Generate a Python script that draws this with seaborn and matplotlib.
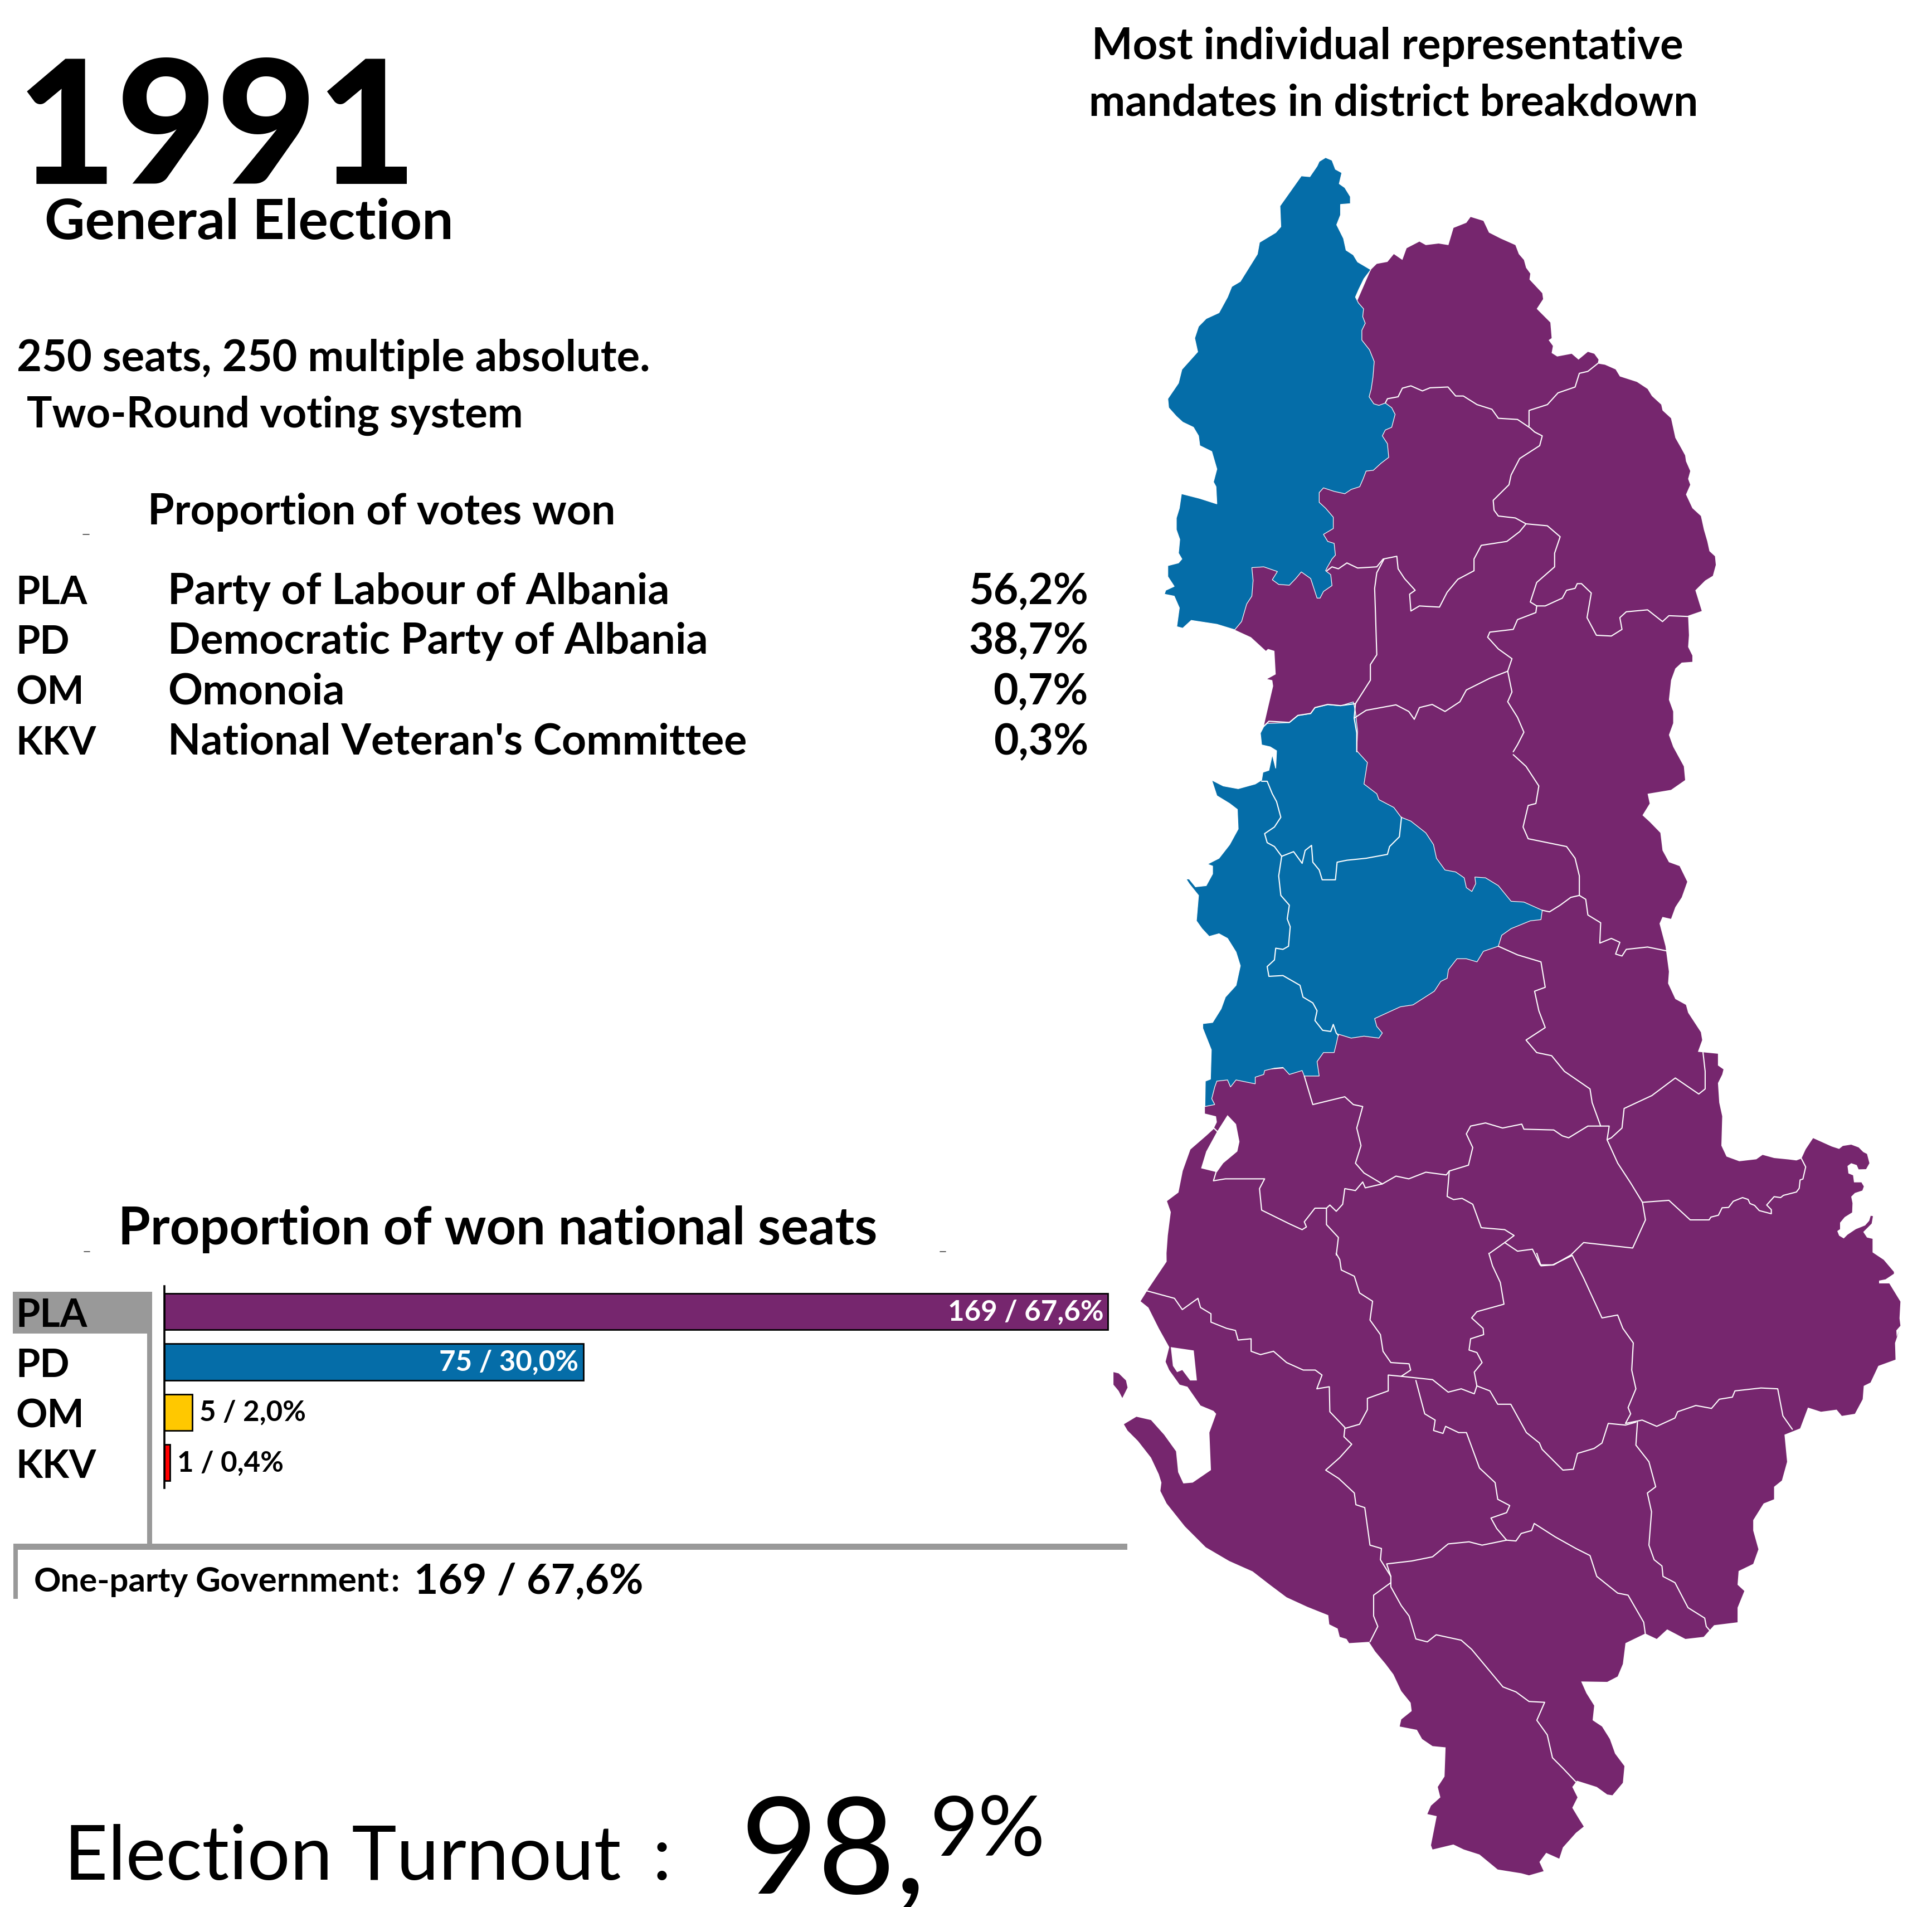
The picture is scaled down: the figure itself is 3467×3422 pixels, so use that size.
"""
1991 Albanian general election: seats bar chart, vote table and district map.
"""

import matplotlib
matplotlib.use("Agg")
import matplotlib.pyplot as plt
import pandas as pd
import seaborn as sns

WIDTH, HEIGHT = 3467, 3423
FONT = ["Lato", "DejaVu Sans"]
PURPLE = "#76266E"
BLUE = "#056DA8"
GREY = "#999999"

PARTIES = ["PLA", "PD", "OM", "KKV"]
PARTY_NAMES = ["Party of Labour of Albania", "Democratic Party of Albania", "Omonoia", "National Veteran's Committee"]
VOTE_SHARES = ["56,2%", "38,7%", "0,7%", "0,3%"]
SEATS = [169, 75, 5, 1]
SEAT_LABELS = ["169 / 67,6%", "75 / 30,0%", "5 / 2,0%", "1 / 0,4%"]
BAR_COLOURS = [PURPLE, BLUE, "#FFC800", "#FF0000"]

C1 = (2000, 250, 1.3067, 1.4255)
C2 = (2000, 1250, 1.3067, 1.4255)
C3 = (2000, 2250, 1.0688, 1.3367)
C5 = (3067, 2000, 3.0, 3.0)

EAST_C1 = [(601,335),(615,320),(640,315),(655,295),(675,310),(685,280),(715,263),(730,272),(760,268),(783,272),(795,228),(825,215),(835,200),(865,210),(878,240),(905,255),(940,272),(948,295),(960,310),(965,330),(975,345),(973,360),(1003,395),(1005,410),(990,435),(1022,470),(1025,510),(1018,515),(1028,530),(1025,548),(1038,557),(1072,550),(1088,565),(1110,545),(1125,550),(1135,565),(1133,575),(1150,578),(1175,590),(1185,608),(1225,622),(1250,640),(1260,658),(1282,680),(1285,695),(1305,715),(1315,765),(1328,790),(1338,810),(1340,825),(1350,850),(1345,870),(1350,885),(1340,910),(1355,945),(1375,965),(1382,1000),(1390,1030),(1395,1055),(1408,1068),(1410,1090),(1403,1118),(1385,1130),(1362,1155),(1377,1208),(1345,1220),(1347,1270),(1345,1300),(1355,1322),(1355,1338),(1330,1340),(1315,1355),(1305,1385),(1300,1435),(1310,1465),(1310,1495),(1300,1525)]
EAST_C2 = [(1310,130),(1335,180),(1338,215),(1305,240),(1250,250),(1255,275),(1238,305),(1255,322),(1280,350),(1285,395),(1300,425),(1325,435),(1343,475),(1330,515),(1315,540),(1305,570),(1285,565),(1278,582),(1292,640),(1300,705),(1298,735),(1315,775),(1340,790),(1345,810),(1375,860),(1378,880),(1368,910),(1415,915),(1415,945),(1428,955),(1425,968),(1415,990),(1418,1040),(1425,1075),(1423,1150),(1435,1178),(1465,1190),(1505,1185)]
EAST_C5 = [(288,220),(350,237),(430,245),(470,250),(497,240),(520,190),(560,130),(660,175),(700,188),(720,172),(765,165),(805,180),(830,205),(850,215),(863,265),(845,297),(805,298),(795,275),(765,265),(745,280),(750,320),(775,330),(780,368),(820,368),(833,390),(825,412),(785,425),(765,445),(772,480),(770,530),(730,555),(705,585),(705,620),(690,630),(700,655),(725,670),(745,650),(790,620),(840,600),(862,575),(870,548),(882,550),(875,590),(830,635),(850,665),(880,672),(880,745),(940,785),(995,850),(995,860),(950,890),(915,897),(915,912),(970,912),(1030,1010),(1025,1100),(1030,1140),(1008,1165),(1010,1200)]
SOUTH_C3 = [(1505,185),(1497,215),(1498,255),(1465,270),(1450,310),(1437,318),(1435,350),(1420,385),(1395,390),(1385,375),(1355,380),(1330,370),(1315,420),(1285,435),(1290,500),(1280,545),(1265,560),(1265,590),(1245,600),(1225,640),(1225,665),(1235,710),(1225,745),(1197,762),(1195,795),(1208,810),(1195,850),(1195,885),(1150,892),(1130,920),(1095,925),(1060,902),(1040,925),(1018,912),(980,935),(975,985),(965,1015),(945,1028),(895,1027),(905,1055),(920,1085),(917,1120),(935,1135),(950,1165),(960,1200),(978,1230),(975,1270),(955,1300),(945,1298),(925,1280),(887,1265),(878,1280),(888,1305),(878,1330),(890,1355),(900,1375),(885,1390),(860,1425),(853,1452),(828,1438),(815,1460),(823,1482),(795,1492),(780,1487),(735,1478),(700,1442),(670,1430),(650,1418),(610,1430),(607,1420),(618,1350),(600,1345),(607,1325),(625,1305),(620,1280),(633,1255),(635,1185),(610,1182),(590,1165),(580,1143),(547,1135),(550,1118),(570,1098),(568,1078),(550,1050),(535,1010),(520,985),(500,955),(488,932),(450,935),(445,925),(432,920),(428,900),(412,890),(410,868),(370,848),(330,825),(298,795),(265,763),(220,738),(175,705),(135,655),(100,600),(88,570),(90,550),(85,530),(70,490),(45,450),(25,425),(18,410),(42,392),(70,400),(95,435),(118,475),(122,525),(132,552),(150,550),(185,520),(182,430),(195,385),(190,378),(165,365),(140,320),(125,315),(105,280),(98,260),(105,225),(85,180),(65,130),(50,115),(65,85),(100,20)]
WEST_C2 = [(122,1425),(125,1380),(132,1320),(123,1292),(150,1270),(160,1215),(178,1160),(215,1125),(232,1108),(240,1090),(238,1075),(212,1068),(212,1050),(225,985),(300,960),(430,950),(400,500),(400,85)]
WEST_C1 = [(350,1503),(358,1465),(372,1400),(370,1385),(358,1382),(378,1370),(375,1310),(360,1305),(355,1310),(320,1275),(282,1256),(300,1200),(300,1090)]

BLUE_NORTH_C1 = [(495,48),(510,55),(518,78),(533,87),(527,115),(540,125),(553,148),(553,166),(530,168),(530,195),(521,220),(537,255),(543,285),(560,297),(570,315),(601,335),(585,358),(573,385),(565,405),(572,420),(584,435),(582,455),(588,472),(580,490),(580,515),(598,540),(609,570),(606,610),(602,640),(597,660),(608,678),(620,682),(635,676),(650,688),(658,705),(650,738),(635,745),(628,760),(640,780),(643,815),(625,830),(607,848),(590,850),(583,870),(575,890),(555,897),(540,908),(515,902),(490,893),(480,905),(480,930),(495,945),(513,968),(513,997),(490,1012),(500,1030),(515,1035),(518,1065),(510,1075),(498,1098),(495,1105),(507,1115),(510,1143),(490,1158),(482,1175),(475,1175),(460,1125),(438,1108),(425,1125),(410,1142),(385,1140),(370,1128),(382,1107),(350,1095),(322,1097),(325,1130),(322,1170),(310,1190),(298,1235),(282,1256),(240,1242),(180,1232),(160,1252),(146,1248),(152,1200),(140,1170),(117,1165),(120,1155),(140,1145),(125,1120),(125,1092),(150,1085),(158,1075),(150,1060),(153,1025),(145,1000),(145,970),(152,945),(157,908),(200,920),(240,934),(238,890),(232,878),(240,845),(228,800),(200,785),(197,760),(185,738),(160,725),(145,710),(127,688),(125,665),(150,625),(158,590),(195,545),(188,510),(197,480),(215,460),(245,445),(265,405),(275,378),(295,365),(315,330),(335,295),(340,265),(378,240),(390,225),(388,172),(438,95),(458,97),(475,70),(480,58)]
BLUE_CENTRE_C2 = [(350,78),(358,70),(410,68),(430,50),(460,45),(470,30),(500,22),(530,25),(560,15),(565,40),(570,90),(568,140),(593,170),(585,225),(615,250),(620,265),(655,285),(672,310),(695,320),(730,350),(748,380),(755,415),(775,445),(800,450),(820,465),(825,490),(838,500),(847,480),(845,463),(870,465),(900,485),(930,525),(960,527),(1003,548),(1000,572),(975,575),(930,595),(908,612),(900,640),(865,653),(850,680),(825,672),(803,672),(783,700),(780,722),(765,730),(750,755),(700,790),(670,795),(640,810),(610,825),(615,845),(628,862),(620,875),(585,870),(555,875),(525,865),(520,890),(515,912),(490,912),(475,935),(480,972),(445,972),(440,958),(410,968),(395,950),(375,952),(352,958),(350,968),(330,975),(330,992),(285,982),(272,1000),(265,982),(240,985),(235,1000),(228,1030),(235,1045),(212,1050),(213,985),(225,980),(227,905),(207,850),(207,838),(230,835),(250,800),(260,770),(285,740),(295,690),(285,655),(265,620),(245,608),(222,615),(205,595),(192,575),(197,510),(175,480),(168,468),(175,468),(190,488),(215,485),(230,455),(230,435),(218,430),(245,415),(270,380),(290,340),(288,290),(270,275),(240,255),(228,215),(255,230),(290,237),(330,225),(345,215),(348,195),(362,190),(370,150),(378,185),(380,140),(365,130),(345,125),(342,95)]

LAGOON_C2 = [(265,1072),(285,1095),(293,1140),(288,1165),(255,1195),(240,1218),(203,1208),(215,1165),(240,1115)]
LAGOON_C3 = [(108,225),(152,233),(158,305),(145,305),(130,280),(120,285),(112,270)]
ISLAND_C3 = [(-2,285),(8,288),(22,305),(25,322),(15,347),(8,330),(-2,315)]

BORDERS_C1 = [
    [(635,676),(640,665),(665,660),(675,638),(695,632),(722,645),(740,637),(782,635),(800,658),(818,658),(850,680),(885,692),(900,715),(945,718),(975,740),(985,750),(1003,760),(997,785),(950,818),(930,860),(925,885),(888,925),(890,950),(900,965),(940,970),(965,985),(950,1005),(920,1030),(860,1040),(843,1075),(843,1105),(805,1127),(780,1160),(762,1198),(715,1195),(695,1208),(692,1165),(705,1155),(680,1125),(665,1100),(662,1068),(630,1075),(615,1095),(570,1098),(545,1085),(525,1100),(510,1095),(498,1105)],
    [(972,735),(972,695),(1015,680),(1040,650),(1080,635),(1090,600),(1110,595),(1133,575)],
    [(965,985),(1015,990),(1045,1018),(1032,1060),(1032,1095),(990,1135),(975,1185),(990,1195),(1010,1195),(1050,1175),(1060,1155),(1080,1150),(1085,1138),(1095,1138),(1118,1162),(1108,1225),(1130,1270),(1165,1272),(1190,1255),(1185,1225),(1200,1210),(1250,1205),(1285,1235),(1300,1220),(1345,1222)],
    [(990,1195),(988,1212),(945,1230),(935,1255),(880,1262),(875,1275),(900,1305),(932,1330),(922,1362),(880,1380),(825,1410),(810,1440),(775,1465),(745,1447),(715,1455),(703,1485),(690,1465),(660,1448),(590,1462),(562,1482),(568,1520),(568,1568)],
    [(632,1075),(615,1110),(610,1150),(612,1215),(615,1320),(600,1345),(600,1385),(565,1445),(562,1482)],
    [(922,1362),(932,1415),(922,1440),(945,1480),(960,1518),(945,1550),(935,1568)],
    [(350,1503),(362,1490),(410,1493),(430,1475),(460,1470),(470,1455),(500,1447),(530,1450),(565,1445)],
]
BORDERS_C2 = [
    [(935,150),(965,180),(995,230),(988,275),(970,280),(958,335),(970,365),(1060,385),(1080,415),(1090,460),(1090,510)],
    [(1003,548),(1020,552),(1045,535),(1070,515),(1090,510),(1105,520),(1110,560),(1140,580),(1138,632),(1165,620),(1185,630),(1175,660),(1190,665),(1200,648),(1250,642),(1295,652)],
    [(900,640),(945,662),(1000,680),(1010,745),(985,755),(995,805),(1010,848),(965,880),(990,912),(1025,920),(1055,960),(1115,1005),(1120,1040),(1140,1100),(1160,1100),(1155,1135),(1180,1195),(1210,1245),(1238,1295),(1245,1340),(1215,1412),(1100,1398),(1070,1430),(1030,1455),(998,1455),(980,1415),(945,1420),(915,1398),(880,1425)],
    [(1380,912),(1385,960),(1385,1005),(1370,1018),(1315,977),(1260,1022),(1195,1055),(1190,1105),(1165,1130),(1155,1135)],
    [(1140,1100),(1110,1100),(1065,1130),(1050,1125),(1030,1110),(960,1108),(955,1095),(910,1105),(870,1092),(835,1100),(825,1120),(840,1155),(830,1200),(785,1215),(780,1280),(795,1288),(815,1285),(840,1300),(860,1360),(915,1365),(937,1380),(915,1398)],
    [(445,972),(465,1045),(540,1025),(560,1045),(582,1050),(568,1105),(578,1150),(565,1195),(585,1220),(628,1248),(660,1228),(690,1235),(730,1218),(778,1225),(785,1215)],
    [(628,1248),(588,1258),(582,1243),(565,1265),(540,1260),(535,1300),(520,1318),(505,1302),(497,1310),(497,1352),(525,1385),(520,1430)],
    [(497,1310),(470,1310),(445,1345),(450,1358),(440,1365),(410,1350),(345,1315),(340,1260),(352,1235),(260,1235),(232,1240),(238,1218)],
    [(1238,1295),(1300,1290),(1350,1340),(1394,1340)],
    [(345,218),(358,218),(370,250),(380,270),(390,310),(375,335),(352,352),(358,375),(375,385),(392,410),(385,460),(390,510),(410,535),(405,570),(412,590),(408,640),(395,648),(378,645),(375,675),(358,692),(362,717),(395,715),(435,740),(442,770),(465,785),(475,805),(470,830),(488,855),(507,858),(513,840),(520,862),(525,868)],
    [(392,410),(420,398),(440,428),(447,395),(462,382),(465,425),(480,445),(487,470),(518,470),(522,425),(545,420),(590,415),(640,405),(645,385),(668,360),(673,310)],
    [(228,1100),(245,1118)],
]
BORDERS_C3 = [
    [(425,0),(432,15),(435,40),(460,55),(470,95),(495,115),(490,160),(510,195),(515,235),(530,262),(565,265),(568,280),(550,295),(525,292),(525,330),(485,348),(485,375),(470,410),(442,420)],
    [(62,90),(115,108),(130,135),(160,108),(165,130),(185,145),(185,165),(215,180),(232,185),(237,208),(262,205),(262,235),(280,243),(305,235),(330,262),(362,280),(385,280),(398,292),(388,325),(412,320),(413,380),(442,418),(440,440),(455,458),(432,490),(405,520),(430,540),(460,575),(463,603),(480,610),(490,700),(512,708),(510,735),(530,775),(530,800),(550,845),(565,870),(578,925),(600,932),(617,915),(665,928),(685,950),(725,1010),(745,1040),(770,1052),(795,1075),(825,1077),(810,1120),(830,1155),(840,1210),(860,1235),(885,1268)],
    [(530,775),(522,745),(570,738),(610,728),(640,697),(680,692),(705,700),(752,688),(770,690),(780,672),(800,665),(805,648),(845,680),(885,708),(912,725),(925,775),(965,815),(985,820),(1015,885),(1018,912)],
    [(530,790),(497,820),(497,870),(505,895),(490,932)],
    [(752,688),(733,660),(722,635),(752,622),(758,605),(735,590),(730,550),(700,515),(675,430),(660,430),(635,415),(630,432),(612,425),(615,400),(595,385),(578,305)],
    [(550,295),(610,303),(640,333),(665,325),(690,337),(695,318)],
    [(695,318),(690,285),(705,262),(695,238),(680,232),(683,205),(708,195),(707,180),(685,155),(695,140),(747,122),(740,70),(725,30),(718,0)],
    [(695,318),(720,330),(735,362),(760,362),(790,430),(815,455),(820,470),(860,520),(880,518),(888,480),(920,468),(935,455),(947,408),(980,412),(1000,405)],
    [(810,0),(818,30),(840,28),(878,5),(900,60),(935,155),(965,148),(975,180),(995,215),(992,280),(1000,325),(985,370),(990,385),(980,408),(1012,400),(1040,415),(1075,395),(1080,380),(1115,365),(1145,372),(1160,350),(1185,345),(1190,330),(1240,323),(1272,325),(1282,390),(1300,422)],
    [(1003,405),(1000,460),(1025,500),(1038,560),(1022,575),(1030,620),(1025,700),(1035,735),(1050,750),(1052,775),(1075,790),(1100,850),(1132,875),(1135,895),(1142,905)],
]
BORDERS_C5 = [
    [(0,570),(10,555),(50,545),(70,505),(105,503),(130,470),(180,450),(210,460),(220,482),(245,492),(270,520),(335,537),(335,515),(310,490),(350,445),(385,450),(400,438),(470,420),(485,400),(490,355),(505,350),(520,285),(497,240)],
]


def to_px(points, crop):
    """Turn points traced on a crop into full image pixels."""
    left, top, sx, sy = crop
    return [(left + x / sx, top + y / sy) for x, y in points]


def label(ax, x, y, text, size, weight="bold", ha="left", color="black"):
    """Write text with its baseline at pixel y; size is the em size in pixels."""
    ax.text(x, y, text, fontsize=size * 0.72, fontweight=weight, ha=ha, va="baseline",
            color=color, family=FONT)


def draw_map(ax):
    outline = (to_px(EAST_C1, C1) + to_px(EAST_C2, C2) + to_px(EAST_C5, C5) + to_px(SOUTH_C3, C3)
               + to_px(WEST_C2, C2) + to_px(WEST_C1, C1))
    ax.fill(*zip(*outline), color=PURPLE, lw=0)
    ax.fill(*zip(*to_px(ISLAND_C3, C3)), color=PURPLE, lw=0)
    for lagoon, crop in [(LAGOON_C2, C2), (LAGOON_C3, C3)]:
        ax.fill(*zip(*to_px(lagoon, crop)), color="white", lw=0)

    ax.fill(*zip(*to_px(BLUE_NORTH_C1, C1)), facecolor=BLUE, edgecolor="white", lw=0.9)
    ax.fill(*zip(*to_px(BLUE_CENTRE_C2, C2)), facecolor=BLUE, edgecolor="white", lw=0.9)

    for borders, crop in [(BORDERS_C1, C1), (BORDERS_C2, C2), (BORDERS_C3, C3), (BORDERS_C5, C5)]:
        for line in borders:
            ax.plot(*zip(*to_px(line, crop)), color="white", lw=1.5, solid_joinstyle="round")


def draw_text(ax):
    label(ax, 30, 330, "1991", 310, weight="black")
    label(ax, 80, 429, "General Election", 100)
    label(ax, 2490, 106, "Most individual representative", 78, ha="center")
    label(ax, 2501, 208, "mandates in district breakdown", 78, ha="center")

    label(ax, 30, 666, "250 seats, 250 multiple absolute.", 77.5)
    label(ax, 48, 767, "Two-Round voting system", 76)
    label(ax, 265, 941, "Proportion of votes won", 77)

    for y, party, name, share in zip([1084, 1173, 1264, 1354], PARTIES, PARTY_NAMES, VOTE_SHARES):
        label(ax, 28, y, party, 70)
        label(ax, 301, y, name, 77)
        label(ax, 1953, y, share, 77, ha="right")

    label(ax, 212, 2233, "Proportion of won national seats", 93.5)

    label(ax, 61, 2856, "One-party", 60)
    label(ax, 351, 2856, "Government", 62)
    label(ax, 702, 2856, ":", 60)
    label(ax, 743, 2859, "169 / 67,6%", 75)

    label(ax, 115, 3373, "Election Turnout", 136, weight="normal")
    label(ax, 1171, 3373, ":", 136, weight="normal")
    label(ax, 1328, 3397, "98,", 240, weight="normal")
    label(ax, 1668, 3330, "9%", 150, weight="normal")


def draw_frame(ax):
    """Grey rules around the seat chart."""
    ax.fill_between([23, 273], 2319, 2394, color=GREY, lw=0)
    ax.fill_between([264, 273], 2394, 2772, color=GREY, lw=0)
    ax.fill_between([24, 2023], 2771, 2782, color=GREY, lw=0)
    ax.fill_between([24, 32], 2782, 2870, color=GREY, lw=0)
    for x0, x1, y in [(149, 160, 960), (151, 161, 2247), (1687, 1697, 2247)]:
        ax.plot([x0, x1], [y, y], color="#444444", lw=1.2)


def draw_seats(fig):
    seats_df = pd.DataFrame({"party": PARTIES, "seats": SEATS})
    ax = fig.add_axes([295 / WIDTH, 1 - 2671 / HEIGHT, 1745 / WIDTH, 361.6 / HEIGHT])
    ax.patch.set_visible(False)
    sns.barplot(data=seats_df, x="seats", y="party", hue="party", palette=BAR_COLOURS, legend=False,
                width=0.72, edgecolor="black", linewidth=2, saturation=1, ax=ax)
    ax.set_xlim(0, 174.15)
    ax.set_ylim(3.5, -0.5)
    ax.set(xlabel=None, ylabel=None, xticks=[])
    sns.despine(ax=ax, bottom=True)
    ax.spines["left"].set_linewidth(2.6)
    ax.spines["left"].set_color("black")
    ax.tick_params(axis="y", length=0, pad=192)
    for tick in ax.get_yticklabels():
        tick.set(ha="left", fontsize=70 * 0.72, fontweight="bold", family=FONT, color="black")

    for i, (value, text) in enumerate(zip(SEATS, SEAT_LABELS)):
        inside = value > 50
        ax.annotate(text, (value, i), xytext=(-8 if inside else 13, 0), textcoords="offset pixels",
                    ha="right" if inside else "left", va="center", fontsize=51 * 0.72, fontweight="bold",
                    color="white" if inside else "black", family=FONT)


def main():
    sns.set_theme(style="white")
    plt.rcParams["font.family"] = FONT

    fig = plt.figure(figsize=(WIDTH / 100, HEIGHT / 100), dpi=100, facecolor="white")
    ax = fig.add_axes([0, 0, 1, 1])
    draw_map(ax)
    draw_frame(ax)
    draw_text(ax)
    ax.set_xlim(0, WIDTH)
    ax.set_ylim(HEIGHT, 0)
    ax.axis("off")

    draw_seats(fig)
    fig.savefig("out.png", dpi=100, facecolor="white")
    plt.close(fig)


if __name__ == "__main__":
    main()
